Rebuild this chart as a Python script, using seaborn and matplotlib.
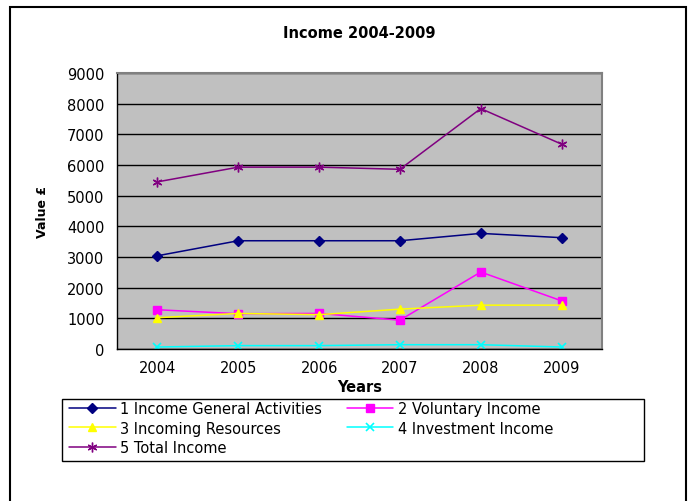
import matplotlib
matplotlib.use("Agg")
import matplotlib.pyplot as plt
import seaborn as sns
import pandas as pd
from matplotlib.patches import Rectangle

years = ["2004", "2005", "2006", "2007", "2008", "2009"]
general = [3040, 3530, 3530, 3530, 3770, 3630]
voluntary = [1280, 1150, 1160, 940, 2510, 1570]
incoming = [1020, 1160, 1120, 1300, 1430, 1430]
investment = [65, 110, 110, 140, 140, 65]
total = [5450, 5930, 5930, 5860, 7840, 6680]
series_names = ["1 Income General Activities", "2 Voluntary Income",
                "3 Incoming Resources", "4 Investment Income", "5 Total Income"]
y_ticks = [0, 1000, 2000, 3000, 4000, 5000, 6000, 7000, 8000, 9000]

sns.set_theme(style="white")
plt.rcParams['font.family'] = ['DejaVu Sans']
plt.rcParams['text.color'] = 'black'
plt.rcParams['axes.labelcolor'] = 'black'
plt.rcParams['xtick.color'] = 'black'
plt.rcParams['ytick.color'] = 'black'

rows = []
for name, vals in zip(series_names, [general, voluntary, incoming, investment, total]):
    for i, v in enumerate(vals):
        rows.append({"x": i, "Year": years[i], "value": v, "series": name})
df = pd.DataFrame(rows)

colors = {series_names[0]: "#000080", series_names[1]: "#FF00FF",
          series_names[2]: "#FFFF00", series_names[3]: "#00FFFF",
          series_names[4]: "#800080"}
markers = {series_names[0]: "D", series_names[1]: "s",
           series_names[2]: "^", series_names[3]: "x",
           series_names[4]: (6, 2, 0)}
msize = {series_names[0]: 5, series_names[1]: 6,
         series_names[2]: 6, series_names[3]: 6,
         series_names[4]: 7}
mew = {series_names[0]: 1, series_names[1]: 1, series_names[2]: 1,
       series_names[3]: 1.2, series_names[4]: 1}

fig = plt.figure(figsize=(6.92, 5.02), dpi=100)
W, H = 692, 502
ax = fig.add_axes([117 / W, 1 - 350 / H, (602 - 117) / W, (350 - 74) / H])
ax.set_facecolor("#C0C0C0")

for name in series_names:
    sub = df[df["series"] == name]
    sns.lineplot(data=sub, x="x", y="value", ax=ax, color=colors[name],
                 marker=markers[name], markersize=msize[name],
                 markeredgecolor=colors[name], markerfacecolor=colors[name],
                 markeredgewidth=mew[name], linewidth=1.1, label=name, legend=False)

ax.set_xlim(-0.5, 5.5)
ax.set_ylim(0, 9000)
ax.set_yticks(y_ticks)
ax.set_yticklabels([str(t) for t in y_ticks], fontsize=10.5)
ax.set_xticks(range(len(years)))
ax.set_xticklabels(years, fontsize=10.5)
ax.set_xticks([i - 0.5 for i in range(len(years) + 1)], minor=True)
ax.tick_params(axis="x", which="major", length=0, pad=8)
ax.tick_params(axis="x", which="minor", length=5, width=1, color="black", direction="out")
ax.tick_params(axis="y", length=5, width=1, color="black", direction="out", pad=4)
ax.grid(axis="y", color="black", linewidth=1)
ax.set_axisbelow(True)
for s in ["top", "right"]:
    ax.spines[s].set_color("#808080")
    ax.spines[s].set_linewidth(1.5)
for s in ["left", "bottom"]:
    ax.spines[s].set_color("black")
    ax.spines[s].set_linewidth(1)
ax.set_xlabel("Years", fontsize=10.5, fontweight="bold", labelpad=3)
ax.set_ylabel("Value £", fontsize=9, fontweight="bold", labelpad=13)
ax.set_title("Income 2004-2009", fontsize=10.5, fontweight="bold", pad=26)

handles, labels = ax.get_legend_handles_labels()
order = [0, 2, 4, 1, 3]
leg = fig.legend([handles[i] for i in order], [labels[i] for i in order],
                 ncol=2, loc="upper left", bbox_to_anchor=(66 / W, 1 - 399 / H),
                 bbox_transform=fig.transFigure, fontsize=10.5, frameon=False,
                 borderpad=0.2, labelspacing=0.32, handlelength=3.2,
                 handletextpad=0.3, columnspacing=1.7, borderaxespad=0)

fig.patches.append(Rectangle((62 / W, 1 - 462 / H), (644 - 62) / W, 62 / H,
                             transform=fig.transFigure, fill=False,
                             edgecolor="black", linewidth=1))
fig.patches.append(Rectangle((10 / W, -0.05), (686 - 10) / W, 1 - 8 / H + 0.05,
                             transform=fig.transFigure, fill=False,
                             edgecolor="black", linewidth=1.5))

fig.savefig("out.png", dpi=100)
